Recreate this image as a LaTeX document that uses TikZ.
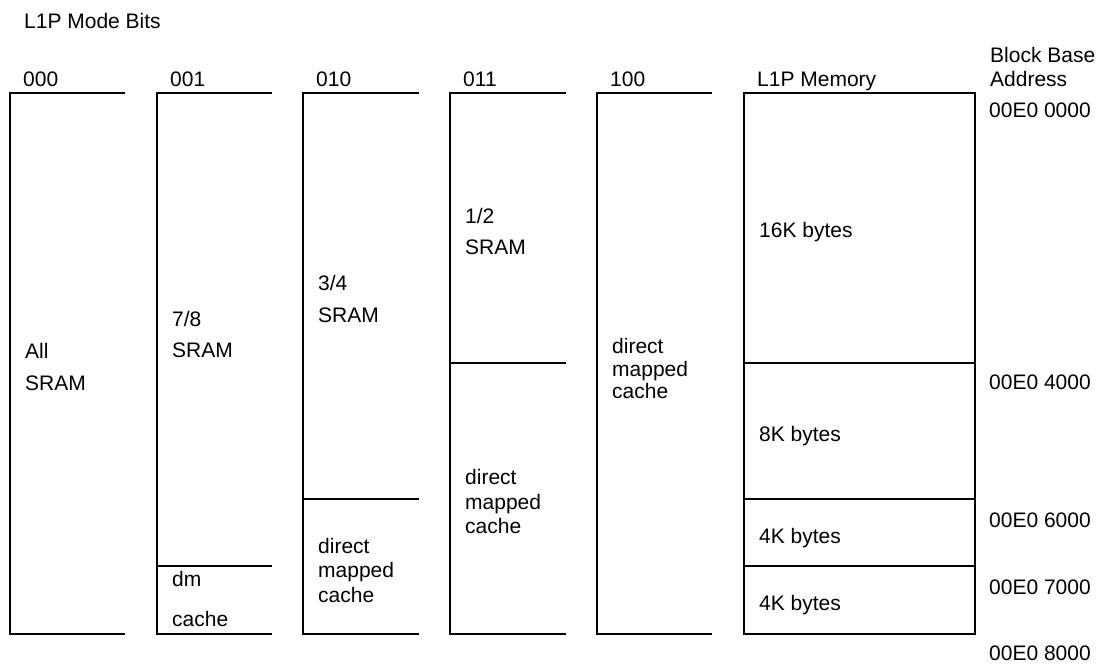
\documentclass[tikz,border=0pt]{standalone}
\usepackage{fontspec}
\setmainfont{Liberation Sans}
\begin{document}
\begin{tikzpicture}[x=1pt,y=-1pt,
  lbl/.style={anchor=base west,inner sep=0pt,font=\fontsize{21}{24}\selectfont},
  frame/.style={line width=2.3pt,line cap=rect}]
\useasboundingbox (0,0) rectangle (1099,665);
% geometry
\def\ytop{93}\def\ybot{634}
% column 000
\draw[frame] (124,\ytop) -- (10,\ytop) -- (10,\ybot) -- (124,\ybot);
% column 001
\draw[frame] (271,\ytop) -- (157,\ytop) -- (157,\ybot) -- (271,\ybot);
\draw[frame] (157,566) -- (271,566);
% column 010
\draw[frame] (418,\ytop) -- (303,\ytop) -- (303,\ybot) -- (418,\ybot);
\draw[frame] (303,499) -- (418,499);
% column 011
\draw[frame] (565,\ytop) -- (450,\ytop) -- (450,\ybot) -- (565,\ybot);
\draw[frame] (450,363) -- (565,363);
% column 100
\draw[frame] (711,\ytop) -- (597,\ytop) -- (597,\ybot) -- (711,\ybot);
% L1P memory
\draw[frame] (744,\ytop) rectangle (975,\ybot);
\draw[frame] (744,363) -- (975,363);
\draw[frame] (744,499) -- (975,499);
\draw[frame] (744,566) -- (975,566);
% titles
\node[lbl] (title) at (24,28) {L1P Mode Bits};
\node[lbl] (h0) at (23,86) {000};
\node[lbl] (h1) at (170,86) {001};
\node[lbl] (h2) at (316,86) {010};
\node[lbl] (h3) at (463,86) {011};
\node[lbl] (h4) at (610,86) {100};
\node[lbl] (hm) at (757,86) {L1P Memory};
\node[lbl] (hb1) at (990,62) {Block Base};
\node[lbl] (hb2) at (990,86) {Address};
% addresses
\node[lbl] (a0) at (989,117) {00E0 0000};
\node[lbl] (a4) at (989,389) {00E0 4000};
\node[lbl] (a6) at (989,527) {00E0 6000};
\node[lbl] (a7) at (989,594) {00E0 7000};
\node[lbl] (a8) at (989,660) {00E0 8000};
% column 000
\node[lbl] (c0a) at (25,358) {All};
\node[lbl] (c0b) at (25,390) {SRAM};
% column 001
\node[lbl] (c1a) at (172,326) {7/8};
\node[lbl] (c1b) at (172,357) {SRAM};
\node[lbl] (c1c) at (172,586) {dm};
\node[lbl] (c1d) at (172,626) {cache};
% column 010
\node[lbl] (c2a) at (318,290) {3/4};
\node[lbl] (c2b) at (318,322) {SRAM};
\node[lbl] (c2c) at (318,553) {direct};
\node[lbl] (c2d) at (318,577) {mapped};
\node[lbl] (c2e) at (318,602) {cache};
% column 011
\node[lbl] (c3a) at (465,223) {1/2};
\node[lbl] (c3b) at (465,254) {SRAM};
\node[lbl] (c3c) at (465,484) {direct};
\node[lbl] (c3d) at (465,509) {mapped};
\node[lbl] (c3e) at (465,533) {cache};
% column 100
\node[lbl] (c4a) at (612,353) {direct};
\node[lbl] (c4b) at (612,376) {mapped};
\node[lbl] (c4c) at (612,398) {cache};
% memory
\node[lbl] (m16) at (759,237) {16K bytes};
\node[lbl] (m8) at (759,441) {8K bytes};
\node[lbl] (m4a) at (759,543) {4K bytes};
\node[lbl] (m4b) at (759,610) {4K bytes};
\end{tikzpicture}
\end{document}
